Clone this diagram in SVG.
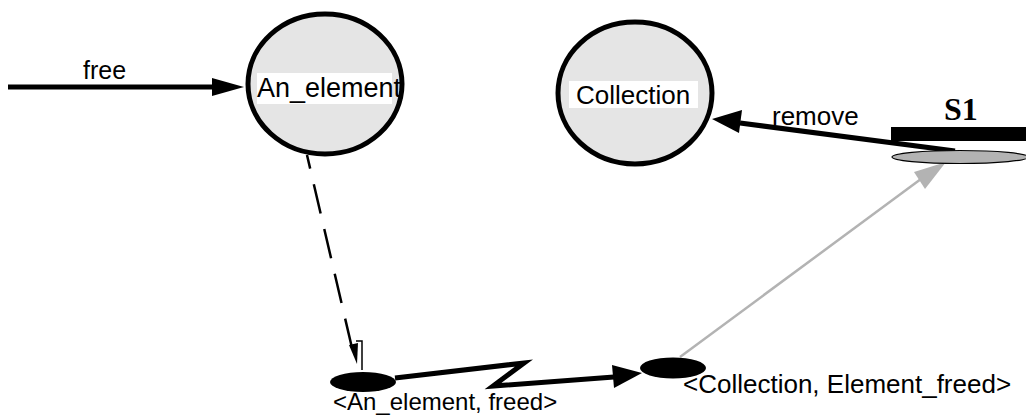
<svg xmlns="http://www.w3.org/2000/svg" width="1026" height="416" viewBox="0 0 1026 416">
  <style>
    .lbl { font-family: "Liberation Sans", Arial, sans-serif; fill: #000; }
    .state { fill: #e5e5e5; stroke: #000; stroke-width: 5; }
    .tag { fill: #fff; }
    .event { fill: #000; }
  </style>

  <rect width="1026" height="416" fill="#fff"/>

  <g id="connectors">
    <!-- free -> An_element -->
    <line x1="8" y1="87" x2="215" y2="87" stroke="#000" stroke-width="5"/>
    <polygon points="244,87 212,78 212,96" fill="#000"/>
    <text class="lbl" x="83" y="79" font-size="25">free</text>

    <!-- S1 -> Collection (remove) -->
    <line x1="955" y1="151" x2="740" y2="123" stroke="#000" stroke-width="5"/>
    <polygon points="712,119 742,110 739,133" fill="#000"/>
    <text class="lbl" x="772" y="125" font-size="26">remove</text>

    <!-- Element_freed -> S1 (grey) -->
    <line x1="680" y1="357" x2="925" y2="176" stroke="#b3b3b3" stroke-width="2.5"/>
    <polygon points="946,162 914,172 925,189" fill="#b3b3b3"/>

    <!-- An_element -> freed event (dashed) -->
    <line x1="307" y1="155" x2="352" y2="348" stroke="#000" stroke-width="2.5" stroke-dasharray="30 16" stroke-dashoffset="16"/>
    <polygon points="349,345 358,343 357,364" fill="#000"/>
    <polyline points="356,341 362,341 362,370" fill="none" stroke="#000" stroke-width="1.5"/>

    <!-- freed -> Element_freed (zigzag) -->
    <polyline points="395,378 524,363 493,386 614,377" fill="none" stroke="#000" stroke-width="5" stroke-linejoin="miter" stroke-miterlimit="10"/>
    <polygon points="642,373 612,365 614,388" fill="#000"/>
  </g>

  <g id="An_element">
    <ellipse class="state" cx="325" cy="84" rx="77" ry="70"/>
    <rect class="tag" x="257" y="73" width="135" height="31"/>
    <text class="lbl" x="257" y="97" font-size="27">An_element</text>
  </g>

  <g id="Collection">
    <ellipse class="state" cx="635" cy="93" rx="77" ry="71"/>
    <rect class="tag" x="569" y="81" width="129" height="27"/>
    <text class="lbl" x="576" y="104" font-size="26">Collection</text>
  </g>

  <g id="S1">
    <rect x="891" y="127" width="135" height="14" fill="#000"/>
    <text x="944" y="120" font-family="Liberation Serif, 'Times New Roman', serif" font-weight="bold" font-size="32">S1</text>
    <ellipse cx="960" cy="157" rx="68" ry="6.5" fill="#b3b3b3" stroke="#000" stroke-width="1.2"/>
  </g>

  <g id="An_element_freed">
    <ellipse class="event" cx="363" cy="382" rx="33" ry="10"/>
    <text class="lbl" x="333" y="410" font-size="24">&lt;An_element, freed&gt;</text>
  </g>

  <g id="Collection_Element_freed">
    <ellipse class="event" cx="673" cy="368" rx="33" ry="10.5"/>
    <text class="lbl" x="683" y="393" font-size="26">&lt;Collection, Element_freed&gt;</text>
  </g>
</svg>
